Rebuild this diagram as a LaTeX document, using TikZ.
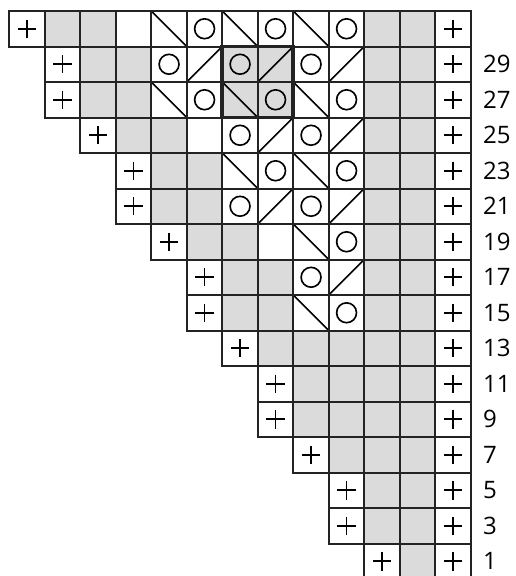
\documentclass[tikz,border=0pt]{standalone}
\usepackage{fontspec}
\setsansfont{Open Sans}
\definecolor{knitgray}{RGB}{219,219,219}
\definecolor{inkline}{RGB}{35,35,35}
\tikzset{
    chartline/.style={draw=inkline, line width=1.7pt},
    heavybox/.style={draw=inkline, line width=3.2pt},
    symbol/.style={draw=black, line width=1.4pt},
    rowlabel/.style={anchor=west, inner sep=0pt, font=\sffamily\fontsize{20.5}{24}\selectfont},
    % one pic for each kind of stitch
    pics/cell p/.style={code={\draw[symbol] (0.24,0.5) -- (0.76,0.5) (0.5,0.24) -- (0.5,0.76);}},
    pics/cell o/.style={code={\draw[symbol] (0.5,0.5) circle (0.28);}},
    pics/cell b/.style={code={\draw[symbol] (0,0) -- (1,1);}},
    pics/cell f/.style={code={\draw[symbol] (0,1) -- (1,0);}},
    pics/cell g/.style={code={\fill[knitgray] (0,0) rectangle (1,1);}},
    pics/cell w/.style={code={}},
    pics/cell go/.style={code={\pic {cell g}; \pic {cell o};}},
    pics/cell gb/.style={code={\pic {cell g}; \pic {cell b};}},
    pics/cell gf/.style={code={\pic {cell g}; \pic {cell f};}},
    chart settings/.style={x=1.065cm, y=-1.065cm}
}

% row / first column / stitches
\def\chartrows{
    0/0/{p,g,g,w,b,o,b,o,b,o,g,g,p},
    1/1/{p,g,g,o,f,go,gf,o,f,g,g,p},
    2/1/{p,g,g,b,o,gb,go,b,o,g,g,p},
    3/2/{p,g,g,w,o,f,o,f,g,g,p},
    4/3/{p,g,g,b,o,b,o,g,g,p},
    5/3/{p,g,g,o,f,o,f,g,g,p},
    6/4/{p,g,g,w,b,o,g,g,p},
    7/5/{p,g,g,o,f,g,g,p},
    8/5/{p,g,g,b,o,g,g,p},
    9/6/{p,g,g,g,g,g,p},
    10/7/{p,g,g,g,g,p},
    11/7/{p,g,g,g,g,p},
    12/8/{p,g,g,g,p},
    13/9/{p,g,g,p},
    14/9/{p,g,g,p},
    15/10/{p,g,p}}

\begin{document}
\begin{tikzpicture}[chart settings]
    \useasboundingbox (-0.262,-0.31) rectangle (14.245,15.915);

    % Stitch symbols and shading
    \foreach \r/\s/\cells in \chartrows {
        \foreach \c [count=\k from \s] in \cells
            \pic at (\k,\r) {cell \c};
    }

    % Cell borders
    \foreach \r/\s/\cells in \chartrows {
        \foreach \c [count=\k from \s] in \cells
            \draw[chartline] (\k,\r) rectangle +(1,1);
    }

    % Outlined repeat
    \draw[heavybox] (6,1) rectangle (8,3);

    % Row numbers
    \foreach \r in {1,...,15}
        \node[rowlabel] (row\r) at (13.34,\r+0.5) {\the\numexpr31-2*\r\relax};
\end{tikzpicture}
\end{document}
